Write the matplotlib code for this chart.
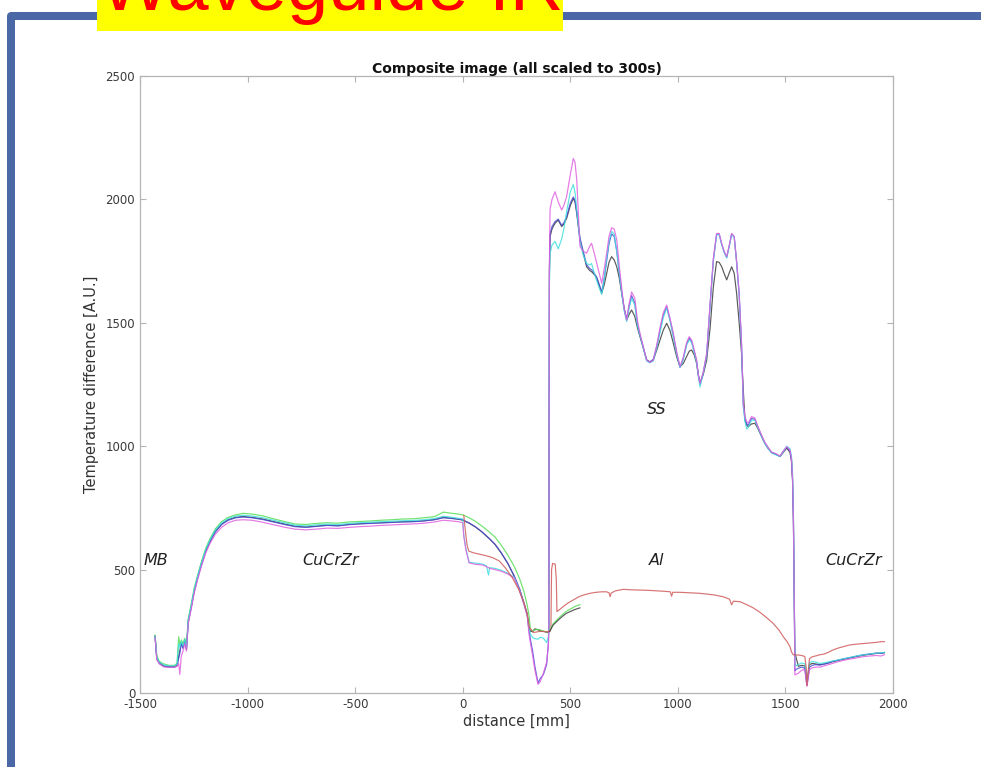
import numpy as np
import matplotlib
matplotlib.use("Agg")
import matplotlib.pyplot as plt
from matplotlib.patches import Rectangle

# ---------------- data ----------------
x_ticks = [-1500, -1000, -500, 0, 500, 1000, 1500, 2000]
x_tick_labels = ["-1500", "-1000", "-500", "0", "500", "1000", "1500", "2000"]
y_ticks = [0, 500, 1000, 1500, 2000, 2500]
y_tick_labels = ["0", "500", "1000", "1500", "2000", "2500"]

# left CuCrZr / MB region
x_left = [-1430, -1422, -1410, -1390, -1365, -1340, -1328, -1320, -1315, -1308, -1300, -1292, -1284, -1276,
          -1262, -1248, -1232, -1215, -1195, -1175, -1150, -1120, -1090, -1055, -1020, -980, -930, -880,
          -830, -780, -730, -680, -630, -580, -530, -480, -430, -380, -330, -280, -230, -180, -130, -90,
          -50, -20, 0]
green_left = [235, 150, 128, 118, 112, 112, 120, 228, 195, 215, 200, 222, 190, 300, 360, 425, 478, 530, 585, 625,
              665, 695, 712, 722, 728, 725, 718, 706, 695, 685, 683, 687, 690, 688, 693, 695, 697, 700, 702, 705,
              706, 710, 715, 733, 728, 725, 722]
black_left = [232, 140, 122, 110, 106, 107, 112, 150, 170, 205, 185, 215, 175, 290, 350, 415, 470, 522, 575, 615,
              655, 685, 702, 712, 715, 712, 705, 695, 685, 676, 673, 676, 680, 678, 683, 686, 688, 690, 692, 694,
              695, 698, 703, 712, 708, 704, 700]
blue_left = [228, 138, 120, 108, 105, 105, 110, 140, 160, 200, 180, 210, 180, 285, 345, 410, 466, 518, 572, 612,
             652, 683, 700, 710, 713, 710, 703, 693, 683, 674, 671, 675, 679, 677, 682, 685, 687, 689, 691, 693,
             694, 697, 702, 710, 707, 705, 703]
cyan_left = [230, 145, 125, 114, 110, 110, 116, 200, 185, 210, 190, 218, 185, 295, 355, 420, 474, 526, 580, 620,
             660, 690, 707, 717, 720, 717, 710, 700, 690, 680, 677, 681, 684, 682, 687, 690, 692, 694, 696, 698,
             699, 702, 707, 716, 712, 708, 705]
magenta_left = [225, 135, 118, 106, 104, 104, 108, 120, 75, 150, 170, 200, 170, 280, 340, 405, 460, 512, 566, 605,
                643, 672, 690, 700, 702, 700, 692, 682, 672, 664, 661, 664, 668, 667, 671, 674, 676, 679, 681, 683,
                685, 688, 693, 700, 697, 694, 690]

# 0 .. 400 mm region
x_mid = [0, 5, 15, 30, 60, 90, 110, 120, 125, 150, 180, 210, 240, 265, 285, 300, 308, 315, 325, 335, 350, 360,
         375, 390, 398, 400]
green_mid = [722, 720, 716, 710, 695, 676, 662, 655, 651, 632, 598, 558, 512, 462, 410, 355, 315, 258, 252, 255,
             258, 256, 250, 248, 247, 246]
black_mid = [700, 698, 694, 688, 672, 652, 636, 628, 624, 602, 566, 524, 472, 418, 362, 318, 262, 250, 248, 260,
             256, 252, 250, 246, 244, 245]
blue_mid = [703, 700, 695, 689, 673, 653, 637, 629, 625, 603, 567, 525, 473, 420, 364, 318, 255, 215, 170, 110,
            40, 58, 75, 115, 200, 250]
cyan_mid = [705, 640, 585, 530, 526, 523, 516, 478, 508, 505, 497, 485, 468, 415, 360, 315, 262, 238, 225, 220,
            218, 226, 222, 205, 228, 250]
magenta_mid = [690, 635, 578, 527, 521, 519, 512, 508, 505, 500, 493, 482, 465, 413, 358, 310, 240, 200, 150, 95,
               35, 45, 80, 125, 190, 250]

x_red_mid = [5, 12, 20, 28, 50, 80, 110, 140, 170, 200, 230, 260, 285, 300, 310, 330, 360, 390, 405, 410, 413,
             418, 430, 435, 438]
red_mid = [720, 660, 600, 575, 568, 562, 556, 548, 535, 505, 468, 420, 365, 320, 265, 245, 250, 248, 250, 262, 500,
           525, 522, 460, 330]

# short scans on the Al side just after 400 mm
x_short = [405, 420, 440, 460, 480, 500, 520, 545]
black_short = [250, 275, 292, 308, 322, 330, 338, 345]
green_short = [255, 280, 298, 315, 330, 340, 350, 358]

# SS region
x_ss = [400, 403, 406, 415, 429, 444, 460, 470, 483, 500, 514, 522, 530, 545, 560, 576, 590, 599, 612, 623, 635,
        646, 658, 669, 680, 692, 704, 716, 728, 739, 750, 762, 774, 785, 800, 812, 824, 840, 855, 870, 886, 902,
        917, 932, 948, 963, 979, 995, 1010, 1025, 1041, 1053, 1064, 1076, 1087, 1095, 1103, 1118, 1134, 1150,
        1165, 1180, 1192, 1204, 1215, 1227, 1238, 1250, 1262, 1273, 1285, 1296, 1304, 1312, 1320, 1327, 1342,
        1358, 1370, 1382, 1394, 1405, 1420, 1436, 1455, 1475, 1490, 1506, 1521, 1528, 1533, 1537, 1540, 1544, 1548]
black_ss = [250, 1700, 1849, 1880, 1903, 1916, 1890, 1900, 1923, 1975, 2004, 1990, 1943, 1836, 1782, 1727, 1712,
            1707, 1695, 1680, 1650, 1620, 1655, 1701, 1745, 1768, 1755, 1727, 1680, 1620, 1560, 1511, 1535, 1552,
            1525, 1480, 1444, 1395, 1349, 1340, 1349, 1390, 1430, 1470, 1498, 1470, 1417, 1360, 1322, 1335, 1363,
            1385, 1390, 1370, 1336, 1290, 1255, 1290, 1349, 1480, 1646, 1748, 1745, 1727, 1700, 1674, 1700, 1727,
            1700, 1620, 1500, 1376, 1230, 1106, 1085, 1079, 1090, 1093, 1075, 1052, 1030, 1011, 990, 975, 968, 958,
            975, 992, 975, 940, 863, 700, 460, 162, 150]
magenta_ss = [250, 1750, 1960, 2000, 2031, 1990, 1957, 1975, 2011, 2100, 2166, 2150, 2080, 1809, 1790, 1782, 1810,
              1822, 1780, 1741, 1700, 1660, 1720, 1782, 1850, 1885, 1880, 1836, 1730, 1640, 1560, 1511, 1580, 1625,
              1600, 1510, 1457, 1400, 1349, 1340, 1349, 1410, 1480, 1540, 1572, 1520, 1457, 1380, 1322, 1360, 1420,
              1444, 1430, 1390, 1349, 1290, 1255, 1300, 1376, 1580, 1760, 1862, 1862, 1820, 1790, 1768, 1810, 1862,
              1850, 1750, 1620, 1420, 1174, 1120, 1100, 1093, 1120, 1114, 1085, 1059, 1035, 1015, 995, 975, 970,
              960, 980, 998, 985, 950, 870, 720, 480, 73, 75]
cyan_ss = [250, 1650, 1780, 1815, 1830, 1800, 1840, 1880, 1950, 2030, 2060, 2030, 1960, 1830, 1775, 1740, 1735,
           1740, 1700, 1670, 1640, 1615, 1680, 1760, 1830, 1870, 1860, 1790, 1700, 1620, 1550, 1505, 1560, 1600,
           1570, 1490, 1450, 1395, 1345, 1338, 1345, 1400, 1460, 1520, 1560, 1510, 1440, 1370, 1318, 1350, 1410,
           1430, 1420, 1380, 1340, 1285, 1240, 1295, 1370, 1570, 1750, 1855, 1858, 1815, 1785, 1762, 1805, 1858,
           1845, 1745, 1610, 1400, 1160, 1100, 1070, 1075, 1105, 1105, 1080, 1055, 1030, 1010, 990, 972, 965, 958,
           978, 1000, 990, 960, 900, 750, 500, 120, 110]
blue_ss = [250, 1720, 1860, 1890, 1910, 1920, 1895, 1905, 1930, 1985, 2010, 1995, 1950, 1845, 1790, 1735, 1720,
           1715, 1700, 1685, 1655, 1625, 1680, 1750, 1820, 1860, 1850, 1790, 1700, 1625, 1560, 1515, 1570, 1610,
           1580, 1495, 1450, 1398, 1350, 1342, 1352, 1405, 1470, 1530, 1565, 1515, 1450, 1375, 1320, 1355, 1415,
           1438, 1425, 1385, 1345, 1290, 1250, 1298, 1372, 1575, 1755, 1858, 1860, 1818, 1788, 1765, 1808, 1860,
           1848, 1748, 1615, 1410, 1170, 1110, 1090, 1085, 1112, 1110, 1082, 1056, 1032, 1012, 992, 974, 967, 959,
           979, 996, 982, 948, 866, 710, 470, 90, 95]

# Al region (red scan)
x_al = [450, 470, 490, 514, 540, 565, 592, 620, 645, 669, 680, 685, 690, 710, 746, 785, 824, 862, 901, 940, 965,
        971, 976, 1010, 1056, 1100, 1134, 1170, 1211, 1240, 1250, 1258, 1289, 1320, 1350, 1380, 1413, 1443, 1470,
        1490, 1506, 1521, 1529, 1536, 1545]
red_al = [338, 352, 365, 377, 390, 398, 404, 408, 410, 410, 406, 390, 405, 414, 420, 418, 417, 416, 414, 412, 410,
          392, 408, 408, 406, 404, 401, 397, 390, 380, 357, 372, 370, 358, 345, 328, 305, 282, 255, 228, 210, 188,
          165, 155, 154]

# right CuCrZr region
x_right = [1548, 1560, 1575, 1590, 1597, 1600, 1605, 1612, 1625, 1640, 1660, 1680, 1700, 1720, 1745, 1770, 1795,
           1820, 1845, 1870, 1895, 1920, 1945, 1960]
black_right = [150, 108, 112, 110, 60, 35, 70, 115, 120, 118, 115, 118, 122, 127, 132, 137, 141, 146, 150, 154, 157,
               160, 162, 163]
blue_right = [95, 100, 105, 100, 50, 30, 60, 105, 112, 115, 113, 117, 121, 128, 133, 138, 143, 147, 152, 156, 158,
              162, 160, 164]
cyan_right = [110, 115, 122, 118, 70, 40, 80, 122, 128, 125, 120, 122, 126, 130, 134, 139, 143, 148, 152, 155, 159,
              161, 163, 165]
magenta_right = [75, 80, 92, 95, 45, 28, 55, 95, 102, 105, 105, 110, 115, 120, 127, 132, 137, 140, 145, 148, 150,
                 152, 150, 155]
red_right = [154, 154, 152, 148, 100, 30, 80, 140, 147, 150, 155, 158, 165, 174, 182, 188, 194, 197, 199, 201, 203,
             205, 208, 208]

region_labels = ["MB", "CuCrZr", "SS", "Al", "CuCrZr"]
region_x = [-1427, -615, 903, 903, 1818]
region_y = [535, 535, 1147, 535, 535]

# ---------------- figure ----------------
W, H = 981, 767
fig = plt.figure(figsize=(W / 100, H / 100), dpi=100)
fig.patch.set_facecolor("white")

frame_col = "#4a68a6"
fig.patches.append(Rectangle((11 / W, -0.2), 2.0, (H - 16.5) / H + 0.2, transform=fig.transFigure,
                             fill=False, edgecolor=frame_col, linewidth=8 * 0.72, joinstyle="round", zorder=1))
fig.patches.append(Rectangle((97 / W, (H - 31) / H), 466 / W, 0.1, transform=fig.transFigure,
                             facecolor="#ffff00", edgecolor="none", zorder=2))
fig.text(100 / W, (H - 10) / H, "Waveguide IR", color="#ff0000", fontsize=53.5,
         family="Liberation Sans", ha="left", va="baseline", zorder=3)

ax = fig.add_axes([140 / W, (H - 693) / H, 753 / W, 617 / H])

col = {"k": "#3c3c3c", "g": "#55dd55", "b": "#4a4ad6", "c": "#3fdede", "m": "#e060e0", "r": "#d05a5a"}
lw = 0.85
al = 0.85

def cat(*parts):
    xs = np.concatenate([np.asarray(p[0], float) for p in parts])
    ys = np.concatenate([np.asarray(p[1], float) for p in parts])
    return xs, ys

series = [
    ("k", cat((x_left, black_left), (x_mid[1:], black_mid[1:]), (x_ss[1:], black_ss[1:]), (x_right[1:], black_right[1:]))),
    ("g", cat((x_left, green_left), (x_mid[1:], green_mid[1:]))),
    ("b", cat((x_left, blue_left), (x_mid[1:], blue_mid[1:]), (x_ss[1:], blue_ss[1:]), (x_right[1:], blue_right[1:]))),
    ("c", cat((x_left, cyan_left), (x_mid[1:], cyan_mid[1:]), (x_ss[1:], cyan_ss[1:]), (x_right[1:], cyan_right[1:]))),
    ("m", cat((x_left, magenta_left), (x_mid[1:], magenta_mid[1:]), (x_ss[1:], magenta_ss[1:]), (x_right[1:], magenta_right[1:]))),
    ("r", cat((x_red_mid, red_mid), (x_al, red_al), (x_right, red_right))),
]
for c, (xs, ys) in series:
    ax.plot(xs, ys, color=col[c], lw=lw, alpha=al)
ax.plot(x_short, green_short, color=col["g"], lw=lw, alpha=al)
ax.plot(x_short, black_short, color=col["k"], lw=lw, alpha=al)

for lab, xx, yy in zip(region_labels, region_x, region_y):
    ax.text(xx, yy, lab, style="italic", fontsize=11.5, ha="center", va="center", color="#222222")

ax.set_xlim(-1500, 2000)
ax.set_ylim(0, 2500)
ax.set_xticks(x_ticks)
ax.set_xticklabels(x_tick_labels)
ax.set_yticks(y_ticks)
ax.set_yticklabels(y_tick_labels)
spine_col = "#b4b4b4"
for s in ax.spines.values():
    s.set_color(spine_col)
    s.set_linewidth(0.9)
ax.tick_params(direction="in", top=True, right=True, length=4, width=0.8, color=spine_col,
               labelsize=8.5, labelcolor="#3a3a3a", pad=3.5)

ax.set_title("Composite image (all scaled to 300s)", fontsize=10, fontweight="bold", pad=2.5, color="#111111")
ax.set_xlabel("distance [mm]", fontsize=10.5, color="#333333", labelpad=2)
ax.set_ylabel("Temperature difference [A.U.]", fontsize=10.5, color="#333333", labelpad=5)

fig.savefig("out.png", dpi=100)
